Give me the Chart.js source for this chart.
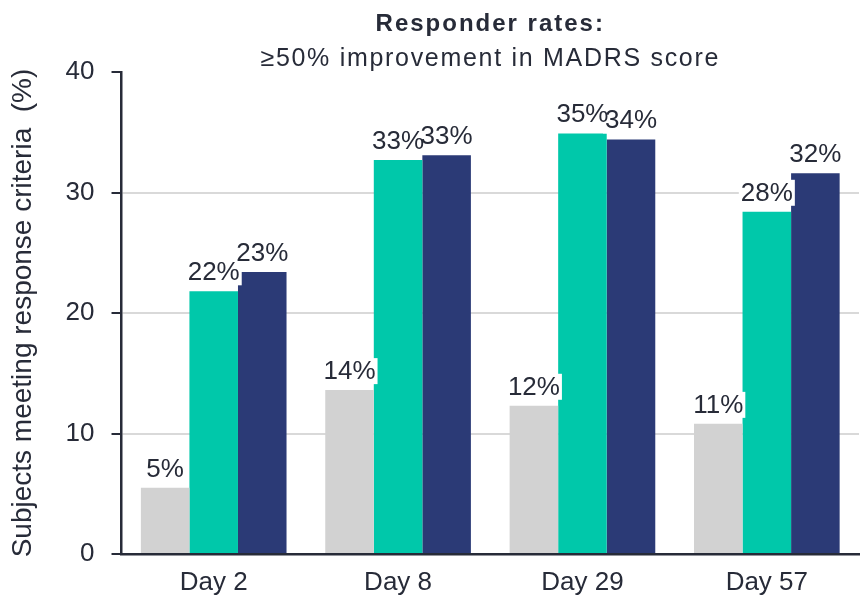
<!DOCTYPE html>
<html>
<head>
<meta charset="utf-8">
<script src="https://cdn.jsdelivr.net/npm/chart.js@4.4.1/dist/chart.umd.min.js"></script>
<style>
  html, body { margin: 0; padding: 0; background: #fff; }
  #wrap { width: 860px; height: 598px; }
</style>
</head>
<body>
<div id="wrap"><canvas id="grafico"></canvas></div>
<script>
var giorni = ["Day 2", "Day 8", "Day 29", "Day 57"];
var serieGrigia = [5.5, 13.6, 12.3, 10.8];
var serieVerde = [21.8, 32.7, 34.9, 28.4];
var serieBlu = [23.4, 33.1, 34.4, 31.6];
var etichetteGrigia = ["5%", "14%", "12%", "11%"];
var etichetteVerde = ["22%", "33%", "35%", "28%"];
var etichetteBlu = ["23%", "33%", "34%", "32%"];
var yTicks = [0, 10, 20, 30, 40];

var testo = "#272b38";
var font = "'Liberation Sans', Arial, sans-serif";

// etichette sopra le barre con sfondo bianco
var etichettePlugin = {
    id: "etichette",
    afterDatasetsDraw: function (chart) {
        var ctx = chart.ctx;
        ctx.save();
        ctx.font = "26px " + font;
        ctx.textAlign = "center";
        ctx.textBaseline = "alphabetic";
        var tutte = [];
        chart.data.datasets.forEach(function (ds, i) {
            var meta = chart.getDatasetMeta(i);
            meta.data.forEach(function (bar, j) {
                tutte.push({ t: ds.etichette[j], x: bar.x, y: bar.y - 11 });
            });
        });
        // prima gli sfondi, poi i testi
        tutte.forEach(function (e) {
            var w = ctx.measureText(e.t).width;
            ctx.fillStyle = "#fff";
            ctx.fillRect(e.x - w / 2 - 2, e.y - 21, w + 4, 26);
        });
        ctx.fillStyle = testo;
        tutte.forEach(function (e) {
            ctx.fillText(e.t, e.x, e.y);
        });
        ctx.restore();
    }
};

// titolo centrato sull'area del grafico
var titoloPlugin = {
    id: "titolo",
    afterDraw: function (chart) {
        var ctx = chart.ctx;
        var a = chart.chartArea;
        var cx = (a.left + a.right) / 2;
        ctx.save();
        ctx.fillStyle = testo;
        ctx.textAlign = "center";
        ctx.textBaseline = "alphabetic";
        ctx.letterSpacing = "2px";
        ctx.font = "bold 24px " + font;
        ctx.fillText("Responder rates:", cx, 31);
        ctx.letterSpacing = "1.7px";
        ctx.font = "25px " + font;
        ctx.fillText("\u226550% improvement in MADRS score", cx, 66);
        ctx.restore();
    }
};

var grafico = document.getElementById("grafico").getContext("2d");
var chart = new Chart(grafico, {
    type: "bar",
    data: {
        labels: giorni,
        datasets: [
            { data: serieGrigia, backgroundColor: "#d2d2d2", etichette: etichetteGrigia },
            { data: serieVerde, backgroundColor: "#00c8aa", etichette: etichetteVerde },
            { data: serieBlu, backgroundColor: "#2b3a76", etichette: etichetteBlu }
        ]
    },
    options: {
        responsive: true,
        maintainAspectRatio: false,
        animation: false,
        layout: { padding: { top: 72, right: 1, left: 6, bottom: 0 } },
        datasets: { bar: { categoryPercentage: 0.79, barPercentage: 1.0, borderWidth: 0 } },
        plugins: {
            legend: { display: false },
            tooltip: { enabled: false }
        },
        scales: {
            x: {
                grid: { display: false, drawTicks: false },
                border: { color: testo, width: 2.5 },
                ticks: { color: testo, font: { size: 26, family: font }, padding: 13 },
                afterFit: function (axis) {
                    axis.height = 44;
                }
            },
            y: {
                min: 0,
                max: 40,
                afterBuildTicks: function (axis) {
                    axis.ticks = yTicks.map(function (v) { return { value: v }; });
                },
                grid: {
                    color: function (c) { return c.tick && c.tick.value === 40 ? "rgba(0,0,0,0)" : "#d9d9d9"; },
                    tickColor: testo,
                    tickLength: 10,
                    lineWidth: 2
                },
                border: { color: testo, width: 2.5 },
                ticks: { color: testo, font: { size: 26, family: font }, padding: 17 },
                title: {
                    display: true,
                    text: "Subjects meeting response criteria  (%)",
                    color: testo,
                    font: { size: 28, family: font },
                    padding: { top: 0, bottom: 9 }
                }
            }
        }
    },
    plugins: [etichettePlugin, titoloPlugin]
});
</script>
</body>
</html>
